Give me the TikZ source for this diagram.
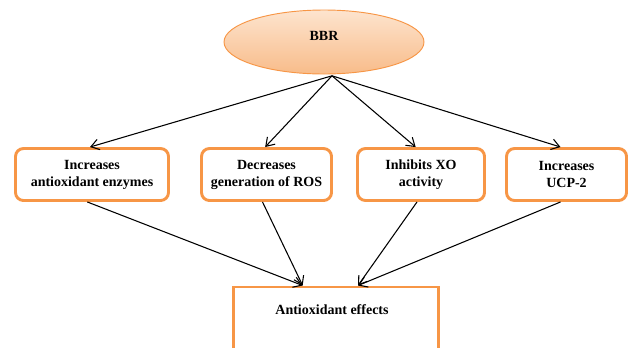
\documentclass[tikz,border=0pt]{standalone}
\usepackage{fontspec}
\setmainfont{Liberation Serif}
\usetikzlibrary{arrows.meta,shapes.geometric}
\definecolor{orng}{HTML}{F79646}
\definecolor{peachtop}{HTML}{FDE4CE}
\definecolor{peachbot}{HTML}{F8BC8A}
\begin{document}
\begin{tikzpicture}[x=0.75pt,y=-0.75pt,
  every node/.style={font=\bfseries\fontsize{10.5}{12.75}\selectfont, align=center, inner sep=0pt},
  effbox/.style={draw=orng, line width=2.2pt, rounded corners=6pt, minimum height={52*0.75pt}},
  conn/.style={line width=0.8pt, -{Straight Barb[length=6pt,width=8pt]}}]
\clip (0,0) rectangle (630,347);
\node[ellipse, draw=orng, line width=0.7pt, top color=peachtop, bottom color=peachbot,
  minimum width={200*0.75pt}, minimum height={64*0.75pt}] (bbr) at (324,42) {};
\node (bbrtext) at (324,36) {BBR};
\node[effbox, minimum width={153*0.75pt}] (b1) at (92,174.5) {Increases\\antioxidant enzymes};
\node[effbox, minimum width={130*0.75pt}] (b2) at (266.5,174.5) {Decreases\\generation of ROS};
\node[effbox, minimum width={127*0.75pt}] (b3) at (421,174.5) {Inhibits XO\\activity};
\node[effbox, minimum width={120*0.75pt}] (b4) at (566.5,174.5) {Increases\\UCP-2};
\node[draw=orng, line width=2.2pt, minimum width={205*0.75pt}, minimum height={120*0.75pt}, anchor=north] (eff) at (336,285.5) {};
\node (efftext) at (332,310) {Antioxidant effects};
\coordinate (src) at ([xshift=6pt,yshift=-1pt]bbr.south);
\draw[conn] (src) -- ([xshift=-1.5pt]b1.north);
\draw[conn] (src) -- ([xshift=-1pt]b2.north);
\draw[conn] (src) -- ([xshift=-4pt]b3.north);
\draw[conn] (src) -- ([xshift=-4.5pt]b4.north);
\draw[conn] ([xshift=-3.5pt]b1.south) -- ([xshift=-25pt]eff.north);
\draw[conn] ([xshift=-3pt]b2.south) -- ([xshift=-25pt]eff.north);
\draw[conn] ([xshift=-3pt]b3.south) -- ([xshift=16.5pt]eff.north);
\draw[conn] ([xshift=-4.5pt]b4.south) -- ([xshift=16.5pt]eff.north);
\end{tikzpicture}
\end{document}
